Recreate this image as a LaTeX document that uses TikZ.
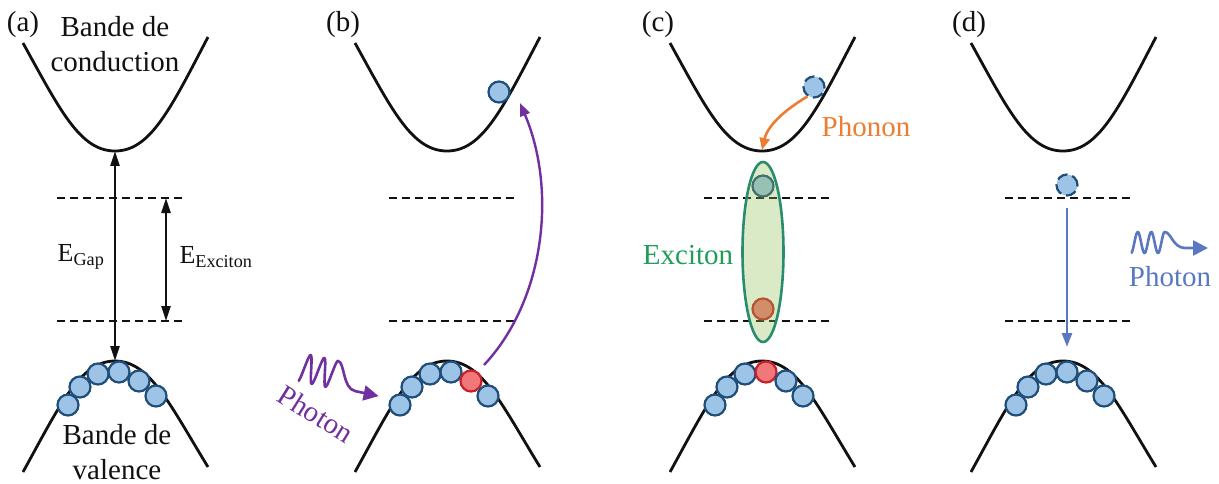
\documentclass[tikz,border=0pt]{standalone}
\usepackage{fontspec}
\setmainfont{Liberation Serif}
\usetikzlibrary{arrows.meta,shapes.geometric}
\definecolor{bandInk}{HTML}{111111}
\definecolor{eFill}{HTML}{9DC3E6}
\definecolor{eEdge}{HTML}{1F4E79}
\definecolor{hFill}{HTML}{F07878}
\definecolor{hEdge}{HTML}{C8202A}
\definecolor{photonViolet}{HTML}{7030A0}
\definecolor{phononOrange}{HTML}{ED7D31}
\definecolor{excGreen}{HTML}{1E9E5A}
\definecolor{excEdge}{HTML}{2A8C6E}
\definecolor{excFill}{HTML}{8FBF4F}
\definecolor{emitBlue}{HTML}{5A78C2}
\tikzset{
  every picture/.style={font=\fontsize{29}{35}\selectfont, text=bandInk},
  band line/.style={draw=bandInk, line width=2.8pt},
  level line/.style={draw=bandInk, line width=2.2pt, dash pattern=on 8pt off 5pt},
  carrier/.style={circle, draw=eEdge, fill=eFill, line width=2.2pt,
    minimum size=21pt, inner sep=0pt},
  hole/.style={carrier, draw=hEdge, fill=hFill},
  ghost/.style={carrier, dash pattern=on 11pt off 5pt},
  gap arrow/.style={{Triangle[length=15pt,width=9pt]}-{Triangle[length=15pt,width=9pt]},
    draw=bandInk, line width=2.2pt},
  pump arrow/.style={-{Triangle[length=13pt,width=10pt]}, draw=photonViolet, line width=2.4pt},
  phonon arrow/.style={-{Triangle[length=12pt,width=10pt]}, draw=phononOrange, line width=2.6pt},
  emit arrow/.style={-{Triangle[length=14pt,width=10pt]}, draw=emitBlue, line width=2.6pt},
  wave/.style={line width=2.6pt, line join=round},
  exciton/.style={ellipse, draw=excEdge, line width=2.6pt, fill=excFill,
    fill opacity=0.32, minimum width=41pt, minimum height=180pt, inner sep=0pt},
  energy/.style={font=\fontsize{26}{30}\selectfont}
}

\begin{document}
\begin{tikzpicture}[x=1pt,y=-1pt]
  \useasboundingbox (0,0) rectangle (1219,484);
  % bands, levels and valence carriers of the four panels
  \foreach \cx/\tag/\dx/\hidx in {115/a/-92/0, 447/b/-104/5, 762/c/-104/4, 1063/d/-94/0}{
    \begin{scope}[shift={(\cx,0)}]
      \draw[band line] (-92,43) .. controls (-55,110) and (-35,151) .. (0,151)
        .. controls (35,151) and (55,110) .. (93,37);
      \draw[band line] (-92,472) .. controls (-55,405) and (-35,361) .. (0,361)
        .. controls (35,361) and (55,405) .. (93,467);
      \draw[level line] (-58,198) -- (70,198);
      \draw[level line] (-58,321) -- (70,321);
      \node (tag\tag) at (\dx,25) {(\tag)};
      \foreach \px/\py [count=\k] in {-47/405, -35/387, -17/374, 4/372, 24/381, 41/396}{
        \ifnum\k=\hidx
          \node[hole] (v\tag\k) at (\px,\py) {};
        \else
          \node[carrier] (v\tag\k) at (\px,\py) {};
        \fi
      }
    \end{scope}
  }

  % (a)
  \node[align=center] (cbText) at (115,44) {Bande de\\conduction};
  \node[align=center, inner sep=0pt] (vbText) at (117,452) {Bande de\\valence};
  \coordinate (cbA) at (115,151);
  \coordinate (vbA) at (115,361);
  \draw[gap arrow] (cbA) -- (vbA);
  \coordinate (exTop) at (166,198);
  \coordinate (exBot) at (166,321);
  \draw[gap arrow] (exTop) -- (exBot);
  \node[energy] (eGap) at (81,257) {E\textsubscript{Gap}};
  \node[energy] (eExc) at (216,257) {E\textsubscript{Exciton}};

  % (b)
  \node[carrier] (eB) at (499,92) {};
  \coordinate (pumpStart) at (484,365);
  \coordinate (pumpEnd) at (520,103);
  \draw[pump arrow] (pumpStart) .. controls (545,300) and (557,190) .. (pumpEnd);
  \begin{scope}[shift={(298,381)}, rotate=-12]
    \draw[wave, photonViolet, -{Triangle[length=15pt,width=15pt]}]
      plot[domain=0:900, samples=80] ({\x/360*14}, {-14+14*cos(\x)})
      .. controls (42,-28) and (45,-2) .. (58,-2) -- (82,-2);
  \end{scope}
  \node[text=photonViolet, rotate=-32] (photB) at (316,414) {Photon};

  % (c)
  \node[ghost] (eC) at (814,87) {};
  \coordinate (cbC) at (762,150);
  \draw[phonon arrow] (eC.235) .. controls (788,108) and (768,124) .. (cbC);
  \node[text=phononOrange] (phonon) at (866,127) {Phonon};
  \node[carrier] (eX) at (763,186) {};
  \node[hole] (hX) at (763,309) {};
  \node[exciton] (exc) at (763,252) {};
  \node[text=excGreen] (excLabel) at (688,255) {Exciton};

  % (d)
  \node[ghost] (eD) at (1067,185) {};
  \coordinate (dropTop) at (1067,208);
  \coordinate (dropBot) at (1067,347);
  \draw[emit arrow] (dropTop) -- (dropBot);
  \begin{scope}[shift={(1131,253)}]
    \draw[wave, emitBlue, -{Triangle[length=15pt,width=15pt]}]
      plot[domain=0:900, samples=80] ({\x/360*13.5}, {-10.5+10.5*cos(\x)})
      .. controls (40,-21) and (42,-5) .. (54,-5) -- (77,-5);
  \end{scope}
  \node[text=emitBlue] (photD) at (1170,277) {Photon};
\end{tikzpicture}
\end{document}
